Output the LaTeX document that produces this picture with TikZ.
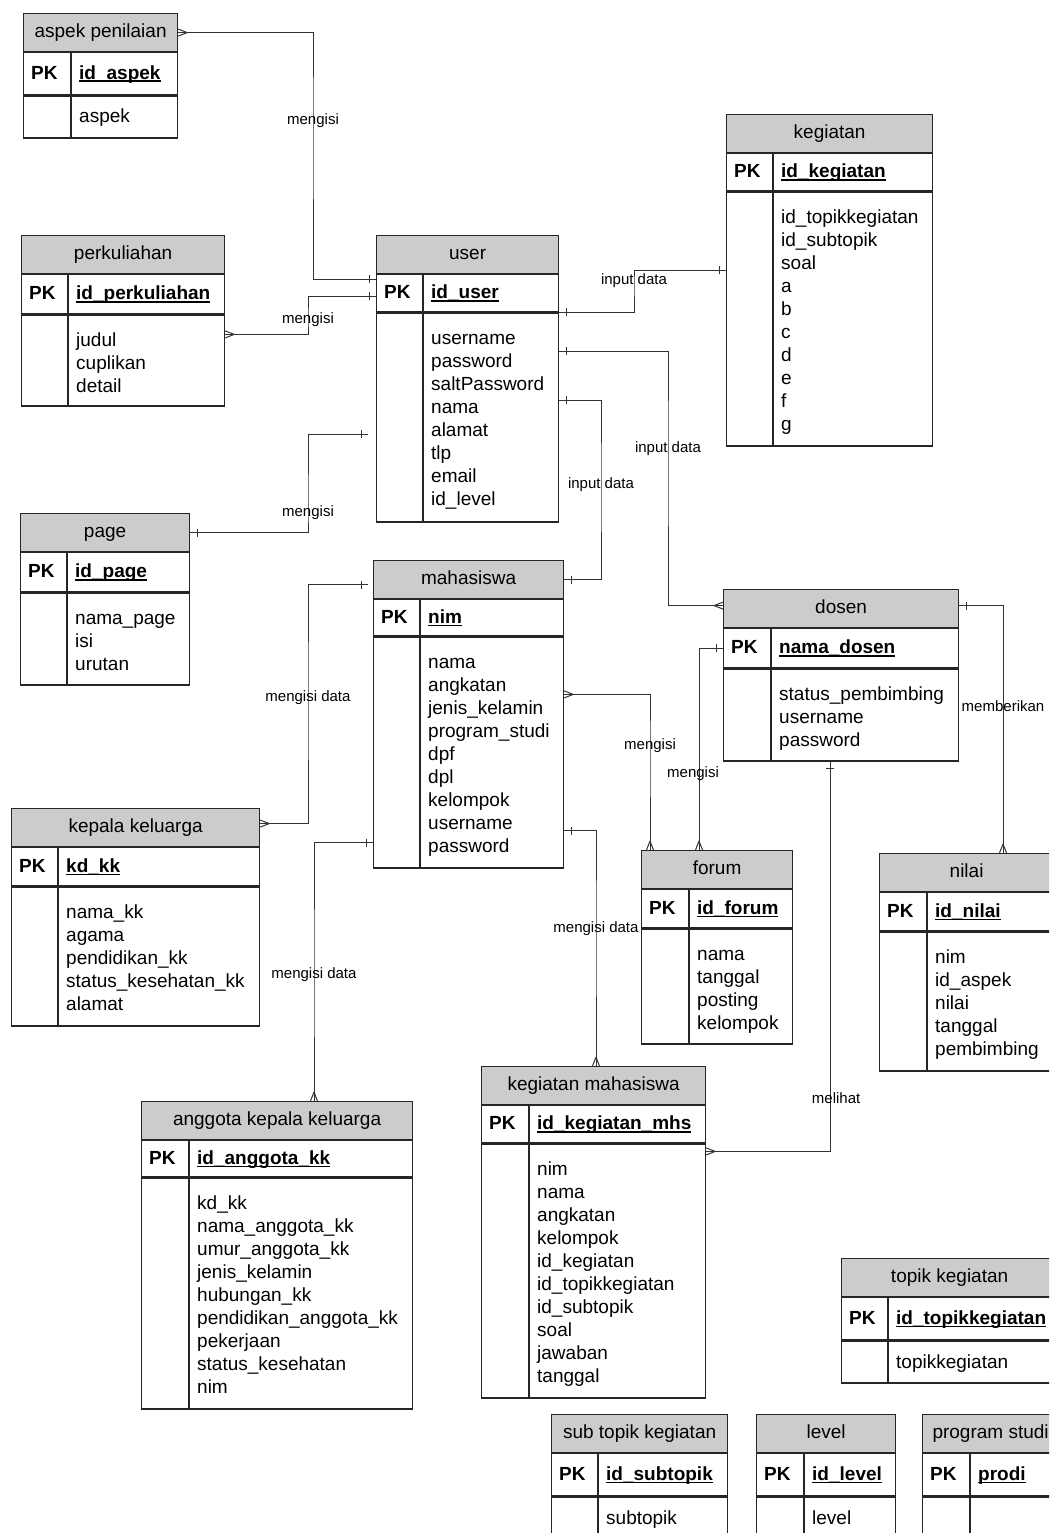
\documentclass[tikz,border=0pt]{standalone}
\usepackage{fontspec}
\setmainfont{Liberation Sans}
\usetikzlibrary{decorations.markings}
\definecolor{headgray}{RGB}{204,204,204}

\newcommand{\keyul}[1]{\setbox0\hbox{#1}\rlap{\rule[-3pt]{\wd0}{1.8pt}}\box0}

\tikzset{
  ehead/.style = {draw=black!85, line width=1.2pt, fill=headgray, minimum height=38pt,
                  inner sep=0pt, text height=14pt, text depth=4pt, font=\fontsize{19}{23}\selectfont},
  erow/.style = {draw=black!85, line width=1.2pt, inner sep=0pt},
  eline/.style = {draw=black!85, line width=1.2pt},
  ekey/.style = {anchor=base west, yshift=-5.5pt, inner sep=0pt, font=\bfseries\fontsize{19}{23}\selectfont},
  eattr/.style = {inner sep=0pt, align=left, font=\fontsize{19}{23}\selectfont},
  rel/.style = {draw=black!80, line width=1pt},
  lbl/.style = {inner sep=0pt, font=\fontsize{15}{17}\selectfont},
  onestart/.style = {postaction={decorate, decoration={markings,
      mark=at position 7pt with {\draw[line width=1pt, black!80] (0pt,-4pt) -- (0pt,4pt);}}}},
  oneend/.style = {postaction={decorate, decoration={markings,
      mark=at position -7pt with {\draw[line width=1pt, black!80] (0pt,-4pt) -- (0pt,4pt);}}}},
  manystart/.style = {postaction={decorate, decoration={markings,
      mark=at position 9pt with {\draw[line width=1pt, black!80] (0pt,0pt) -- (-9pt,3.5pt) (0pt,0pt) -- (-9pt,-3.5pt);}}}},
  manyend/.style = {postaction={decorate, decoration={markings,
      mark=at position -9pt with {\draw[line width=1pt, black!80] (0pt,0pt) -- (9pt,3.5pt) (0pt,0pt) -- (9pt,-3.5pt);}}}}
}

% name, top left, width, key column, pk height, attribute height, title, key, attributes
\newcommand{\entity}[9]{%
  \node[ehead, minimum width=#3pt, anchor=north west] (#1) at (#2) {#7};
  \node[erow, minimum width=#3pt, minimum height=#5pt, anchor=north west] (#1-pk) at (#1.south west) {};
  \node[erow, minimum width=#3pt, minimum height=#6pt, anchor=north west] (#1-at) at (#1-pk.south west) {};
  \draw[eline] ([xshift=#4pt]#1-pk.north west) -- ([xshift=#4pt]#1-at.south west);
  \node[ekey, xshift=8pt] (#1-k) at (#1-pk.west) {PK};
  \node[ekey, xshift=#4pt+8pt] (#1-id) at (#1-pk.west) {\keyul{#8}};
  \node[eattr, anchor=north west, xshift=#4pt+8pt, yshift=-16pt] (#1-a) at (#1-at.north west) {\rule{0pt}{16pt}#9};
}

% name, top left, width, key column, title, key, attribute
\newcommand{\entitysmall}[7]{%
  \node[ehead, minimum width=#3pt, anchor=north west] (#1) at (#2) {#5};
  \node[erow, minimum width=#3pt, minimum height=42pt, anchor=north west] (#1-pk) at (#1.south west) {};
  \node[erow, minimum width=#3pt, minimum height=42pt, anchor=north west] (#1-at) at (#1-pk.south west) {};
  \draw[eline] ([xshift=#4pt]#1-pk.north west) -- ([xshift=#4pt]#1-at.south west);
  \node[ekey, xshift=8pt] (#1-k) at (#1-pk.west) {PK};
  \node[ekey, xshift=#4pt+8pt] (#1-id) at (#1-pk.west) {\keyul{#6}};
  \node[eattr, anchor=base west, xshift=#4pt+8pt, yshift=-6pt] (#1-a) at (#1-at.west) {#7};
}

\begin{document}
\begin{tikzpicture}[x=1pt, y=-1pt]
  \useasboundingbox (0,0) rectangle (1049,1533);
  \fill[white] (0,0) rectangle (1049,1533);
  \clip (0,0) rectangle (1049,1533);

  % tables
  \entitysmall{aspek}{23,13}{154}{48}{aspek penilaian}{id\_aspek}{aspek}
  \entity{perk}{21,235}{203}{47}{39}{91}{perkuliahan}{id\_perkuliahan}{judul\\cuplikan\\detail}
  \entity{user}{376,235}{182}{47}{37}{209}{user}{id\_user}
    {username\\password\\saltPassword\\nama\\alamat\\tlp\\email\\id\_level}
  \entity{keg}{726,114}{206}{47}{37}{254}{kegiatan}{id\_kegiatan}
    {id\_topikkegiatan\\id\_subtopik\\soal\\a\\b\\c\\d\\e\\f\\g}
  \entity{page}{20,513}{169}{47}{39}{92}{page}{id\_page}{nama\_page\\isi\\urutan}
  \entity{mhs}{373,560}{190}{47}{36}{231}{mahasiswa}{nim}
    {nama\\angkatan\\jenis\_kelamin\\program\_studi\\dpf\\dpl\\kelompok\\username\\password}
  \entity{dosen}{723,589}{235}{48}{39}{92}{dosen}{nama\_dosen}{status\_pembimbing\\username\\password}
  \entity{kk}{11,808}{248}{47}{38}{139}{kepala keluarga}{kd\_kk}
    {nama\_kk\\agama\\pendidikan\_kk\\status\_kesehatan\_kk\\alamat}
  \entity{forum}{641,850}{151}{48}{38}{115}{forum}{id\_forum}{nama\\tanggal\\posting\\kelompok}
  \entity{nilai}{879,853}{174}{48}{38}{139}{nilai}{id\_nilai}{nim\\id\_aspek\\nilai\\tanggal\\pembimbing}
  \entity{akk}{141,1101}{271}{48}{36}{231}{anggota kepala keluarga}{id\_anggota\_kk}
    {kd\_kk\\nama\_anggota\_kk\\umur\_anggota\_kk\\jenis\_kelamin\\hubungan\_kk\\pendidikan\_anggota\_kk\\pekerjaan\\status\_kesehatan\\nim}
  \entity{kmhs}{481,1066}{224}{48}{37}{254}{kegiatan mahasiswa}{id\_kegiatan\_mhs}
    {nim\\nama\\angkatan\\kelompok\\id\_kegiatan\\id\_topikkegiatan\\id\_subtopik\\soal\\jawaban\\tanggal}
  \entitysmall{topik}{841,1258}{216}{47}{topik kegiatan}{id\_topikkegiatan}{topikkegiatan}
  \entitysmall{subtopik}{551,1414}{176}{47}{sub topik kegiatan}{id\_subtopik}{subtopik}
  \entitysmall{level}{756,1414}{139}{48}{level}{id\_level}{level}
  \entitysmall{prodi}{922,1414}{136}{48}{program studi}{prodi}{}

  % relations
  \draw[rel, manystart, oneend] (aspek.east) -| (313,121) node[lbl] (l1) {mengisi}
    |- ([yshift=-5pt]user-pk.north west);
  \draw[rel, manystart, oneend] ([yshift=-20pt]perk-at.north east) -| (308,320) node[lbl] (l2) {mengisi}
    |- ([yshift=-22pt]user-pk.north west);
  \draw[rel, onestart, oneend] (user-pk.south east) -| (634,281) node[lbl] (l3) {input data}
    |- ([yshift=-79pt]keg-at.north west);
  \draw[rel, onestart, manyend] ([yshift=-39pt]user-at.north east) -| (668,449) node[lbl] (l4) {input data}
    |- ([yshift=3pt]dosen.west);
  \draw[rel, onestart, oneend] ([yshift=-88pt]user-at.north east) -| (601,485) node[lbl] (l5) {input data}
    |- (mhs.east);
  \draw[rel, onestart, oneend] (page.east) -| (308,513) node[lbl] (l6) {mengisi}
    |- ([xshift=-8pt,yshift=-122pt]user-at.north west);
  \draw[rel, manystart, oneend] ([yshift=4pt]kk.east) -| (308,698) node[lbl] (l7) {mengisi data}
    |- ([xshift=-5pt,yshift=-5pt]mhs.west);
  \draw[rel, onestart, manyend] ([yshift=26pt]mhs-at.south west) -| (314,975) coordinate (c8)
    node[lbl] (l8) {mengisi data} -- (akk.north -| c8);
  \draw[rel, manystart, manyend] ([yshift=-58pt]mhs-at.north east) -| (650,746) coordinate (c9)
    node[lbl] (l9) {mengisi} -- (forum.north -| c9);
  \draw[rel, onestart, manyend] (dosen-pk.west) -| (699,774) coordinate (c10)
    node[lbl, xshift=-6pt] (l10) {mengisi} -- (forum.north -| c10);
  \draw[rel, onestart, manyend] ([yshift=3pt]dosen.east) -| (1003,706) coordinate (c11)
    node[lbl] (l11) {memberikan} -- (nilai.north -| c11);
  \draw[rel, onestart, manyend] ([xshift=-11pt]dosen-at.south) -- ++(0,337) coordinate (c12)
    node[lbl, xshift=6pt] (l12) {melihat} |- ([yshift=-8pt]kmhs-at.north east);
  \draw[rel, onestart, manyend] ([yshift=38pt]mhs-at.south east) -| (596,929) coordinate (c13)
    node[lbl] (l13) {mengisi data} -- (kmhs.north -| c13);
\end{tikzpicture}
\end{document}
